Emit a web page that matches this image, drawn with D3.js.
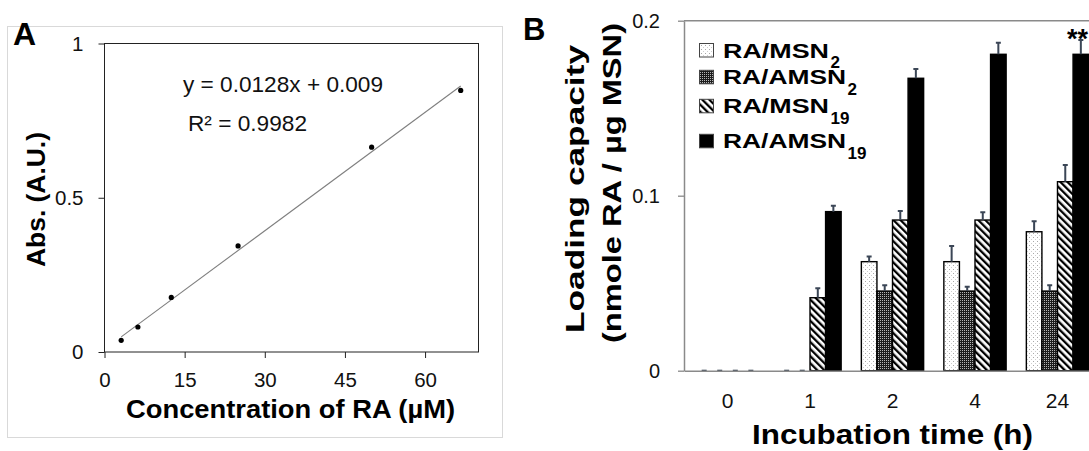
<!DOCTYPE html>
<html>
<head>
<meta charset="utf-8">
<script src="https://cdn.jsdelivr.net/npm/d3@7"></script>
<style>
  body { margin: 0; background: #fff; }
  svg { display: block; font-family: "Liberation Sans", Arial, sans-serif; }
</style>
</head>
<body>
<div id="chart"></div>
<script>
// panel A: calibration curve
const concRA = [3.125, 6.25, 12.5, 25, 50, 66.67];
const absRA = [0.038, 0.081, 0.177, 0.344, 0.664, 0.848];
const fitSlope = 0.0128;
const fitIntercept = 0.009;
const concTicks = [0, 15, 30, 45, 60];
const absTicks = [0, 0.5, 1];

// panel B: loading capacity
const times = ["0", "1", "2", "4", "24"];
const seriesKeys = ["msn2", "amsn2", "msn19", "amsn19"];
const seriesLabel = ["RA/MSN", "RA/AMSN", "RA/MSN", "RA/AMSN"];
const seriesSub = ["2", "2", "19", "19"];
const msn2 = [0, 0, 0.0623, 0.0623, 0.0794];
const msn2Err = [0, 0, 0.003, 0.009, 0.006];
const amsn2 = [0, 0, 0.0455, 0.0455, 0.0455];
const amsn2Err = [0, 0, 0.0034, 0.0025, 0.0034];
const msn19 = [0, 0.0417, 0.0861, 0.0861, 0.108];
const msn19Err = [0, 0.0054, 0.0051, 0.0044, 0.0095];
const amsn19 = [0, 0.0909, 0.1671, 0.1808, 0.1808];
const amsn19Err = [0, 0.0033, 0.0053, 0.0066, 0.0082];
const loadTicks = [0, 0.1, 0.2];

const W = 1089, H = 451;
const svg = d3.select("#chart").append("svg").attr("width", W).attr("height", H);
const defs = svg.append("defs");

// fill patterns
const pDots = defs.append("pattern").attr("id", "pDots").attr("patternUnits", "userSpaceOnUse").attr("width", 4).attr("height", 4);
pDots.append("rect").attr("width", 4).attr("height", 4).attr("fill", "#fff");
pDots.append("rect").attr("x", 1).attr("y", 1).attr("width", 1).attr("height", 1).attr("fill", "#a8a8a8");
pDots.append("rect").attr("x", 3).attr("y", 3).attr("width", 1).attr("height", 1).attr("fill", "#cfcfcf");

const pDark = defs.append("pattern").attr("id", "pDark").attr("patternUnits", "userSpaceOnUse").attr("width", 2).attr("height", 2);
pDark.append("rect").attr("width", 2).attr("height", 2).attr("fill", "#1c1c1c");
pDark.append("rect").attr("width", 1).attr("height", 1).attr("fill", "#b5b5b5");

const pStripe = defs.append("pattern").attr("id", "pStripe").attr("patternUnits", "userSpaceOnUse")
  .attr("width", 5).attr("height", 5).attr("patternTransform", "rotate(-45)");
pStripe.append("rect").attr("width", 5).attr("height", 5).attr("fill", "#fff");
pStripe.append("rect").attr("width", 2.3).attr("height", 5).attr("fill", "#000");

const fills = { msn2: "url(#pDots)", amsn2: "url(#pDark)", msn19: "url(#pStripe)", amsn19: "#000" };

// ---------- panel A ----------
const gA = svg.append("g");
gA.append("rect").attr("x", 7.5).attr("y", 26.5).attr("width", 495).attr("height", 411)
  .attr("fill", "none").attr("stroke", "#d9d9d9");

const xA = d3.scaleLinear().domain([0, 70]).range([104.5, 478.5]);
const yA = d3.scaleLinear().domain([0, 1]).range([352, 43.5]);

gA.append("rect").attr("x", xA(0)).attr("y", yA(1)).attr("width", xA(70) - xA(0)).attr("height", yA(0) - yA(1))
  .attr("fill", "none").attr("stroke", "#222").attr("stroke-width", 1);

const axAy = gA.append("g").attr("transform", `translate(${xA(0)},0)`)
  .call(d3.axisLeft(yA).tickValues(absTicks).tickFormat(d3.format("~g")).tickSize(6).tickSizeOuter(0).tickPadding(15));
const axAx = gA.append("g").attr("transform", `translate(0,${yA(0)})`)
  .call(d3.axisBottom(xA).tickValues(concTicks).tickSize(6).tickSizeOuter(0).tickPadding(14));
[axAy, axAx].forEach((a) => {
  a.select(".domain").remove();
  a.selectAll("line").attr("stroke", "#222");
  a.selectAll("text").attr("font-size", 20.5).attr("fill", "#111").attr("font-family", "Liberation Sans, Arial, sans-serif");
});

// trend line
const x0 = d3.min(concRA), x1 = d3.max(concRA);
gA.append("line")
  .attr("x1", xA(x0)).attr("y1", yA(fitSlope * x0 + fitIntercept))
  .attr("x2", xA(x1)).attr("y2", yA(fitSlope * x1 + fitIntercept))
  .attr("stroke", "#7f7f7f").attr("stroke-width", 1.1);

gA.selectAll("circle.pt").data(concRA).enter().append("circle")
  .attr("class", "pt")
  .attr("cx", (d) => xA(d))
  .attr("cy", (d, i) => yA(absRA[i]))
  .attr("r", 2.6).attr("fill", "#000");

gA.append("text").attr("x", 183).attr("y", 91.5).attr("font-size", 22).attr("fill", "#111")
  .attr("textLength", 200).attr("lengthAdjust", "spacingAndGlyphs")
  .text(`y = ${fitSlope}x + ${fitIntercept}`);
gA.append("text").attr("x", 188).attr("y", 130.5).attr("font-size", 22).attr("fill", "#111")
  .attr("textLength", 119).attr("lengthAdjust", "spacingAndGlyphs")
  .text("R² = 0.9982");

gA.append("text").attr("x", 290.5).attr("y", 418.3).attr("text-anchor", "middle")
  .attr("font-size", 26).attr("font-weight", "bold")
  .attr("textLength", 329).attr("lengthAdjust", "spacingAndGlyphs").text("Concentration of RA (µM)");
gA.append("text").attr("transform", "translate(45,199.5) rotate(-90)").attr("text-anchor", "middle")
  .attr("font-size", 26).attr("font-weight", "bold")
  .attr("textLength", 135).attr("lengthAdjust", "spacingAndGlyphs").text("Abs. (A.U.)");
gA.append("text").attr("x", 13).attr("y", 45).attr("font-size", 32).attr("font-weight", "bold").text("A");

// ---------- panel B ----------
const gB = svg.append("g");
const data = seriesKeys.map((k, i) => ({
  key: k,
  values: [msn2, amsn2, msn19, amsn19][i],
  errs: [msn2Err, amsn2Err, msn19Err, amsn19Err][i],
}));

const xB = d3.scaleBand().domain(times).range([684, 1101]).paddingInner(0.245).paddingOuter(0.15);
const xS = d3.scaleBand().domain(seriesKeys).range([0, xB.bandwidth()]);
const yB = d3.scaleLinear().domain([0, 0.2]).range([370.7, 20.7]);

const bars = gB.selectAll("g.series").data(data).enter().append("g").attr("class", "series");
bars.selectAll("rect").data((s) => s.values.map((v, j) => ({ key: s.key, v, t: times[j] })).filter((d) => d.v > 0))
  .enter().append("rect")
  .attr("x", (d) => xB(d.t) + xS(d.key))
  .attr("y", (d) => yB(d.v))
  .attr("width", xS.bandwidth())
  .attr("height", (d) => yB(0) - yB(d.v))
  .attr("fill", (d) => fills[d.key])
  .attr("stroke", "#000").attr("stroke-width", 1.4);

// error bars (upper only)
const errs = gB.selectAll("g.err").data(data).enter().append("g").attr("class", "err");
errs.selectAll("path").data((s) => s.values.map((v, j) => ({ key: s.key, v, e: s.errs[j], t: times[j] })))
  .enter().append("path")
  .attr("d", (d) => {
    const cx = xB(d.t) + xS(d.key) + xS.bandwidth() / 2;
    const top = yB(d.v + d.e);
    return `M${cx},${yB(d.v)}V${top}M${cx - 2.5},${top}H${cx + 2.5}`;
  })
  .attr("fill", "none").attr("stroke", "#3b4656").attr("stroke-width", 2);

// axes
const axBy = gB.append("g").attr("transform", `translate(684,0)`)
  .call(d3.axisLeft(yB).tickValues(loadTicks).tickFormat(d3.format("~g")).tickSize(6).tickSizeOuter(0).tickPadding(18));
const axBx = gB.append("g").attr("transform", `translate(0,${yB(0)})`)
  .call(d3.axisBottom(xB).tickSize(0).tickPadding(22.5));
[axBy, axBx].forEach((a) => {
  a.select(".domain").attr("stroke", "#8a8a8a").attr("stroke-width", 1.5);
  a.selectAll("line").attr("stroke", "#8a8a8a").attr("stroke-width", 1.3);
  a.selectAll("text").attr("font-size", 21).attr("fill", "#111").attr("font-family", "Liberation Sans, Arial, sans-serif");
});
axBy.selectAll("text").attr("font-size", 20);
gB.append("line").attr("x1", 684).attr("x2", 1101).attr("y1", yB(0.2)).attr("y2", yB(0.2))
  .attr("stroke", "#8a8a8a").attr("stroke-width", 1.5);

// significance mark, kept just inside the right edge
gB.append("text")
  .attr("x", W - 1).attr("y", 47.5)
  .attr("text-anchor", "end").attr("font-size", 27).attr("font-weight", "bold").text("**");

// legend
const legRows = [57.5, 84.3, 113.3, 148.3];
const legWidths = [106, 123, 106, 123];
const leg = gB.append("g");
seriesKeys.forEach((k, i) => {
  const by = legRows[i];
  leg.append("rect").attr("x", 699.5).attr("y", by - 14).attr("width", 14).attr("height", 13.5)
    .attr("fill", fills[k]).attr("stroke", "#444").attr("stroke-width", 1);
  leg.append("text").attr("x", 723).attr("y", by).attr("font-size", 21).attr("font-weight", "bold")
    .attr("textLength", legWidths[i]).attr("lengthAdjust", "spacingAndGlyphs").text(seriesLabel[i]);
  leg.append("text").attr("x", 723 + legWidths[i] + 1.5).attr("y", by + 10.5).attr("font-size", 17).attr("font-weight", "bold")
    .text(seriesSub[i]);
});

// titles
gB.append("text").attr("x", xB.range()[0] / 2 + xB.range()[1] / 2).attr("y", 443.5).attr("text-anchor", "middle")
  .attr("font-size", 28).attr("font-weight", "bold")
  .attr("textLength", 281).attr("lengthAdjust", "spacingAndGlyphs").text("Incubation time (h)");
gB.append("text").attr("transform", "translate(584,189) rotate(-90)").attr("text-anchor", "middle")
  .attr("font-size", 25.5).attr("font-weight", "bold")
  .attr("textLength", 288).attr("lengthAdjust", "spacingAndGlyphs").text("Loading capacity");
gB.append("text").attr("transform", "translate(621,183) rotate(-90)").attr("text-anchor", "middle")
  .attr("font-size", 25.5).attr("font-weight", "bold")
  .attr("textLength", 320).attr("lengthAdjust", "spacingAndGlyphs").text("(nmole RA / µg MSN)");
gB.append("text").attr("x", 523).attr("y", 40).attr("font-size", 31).attr("font-weight", "bold").text("B");
</script>
</body>
</html>
